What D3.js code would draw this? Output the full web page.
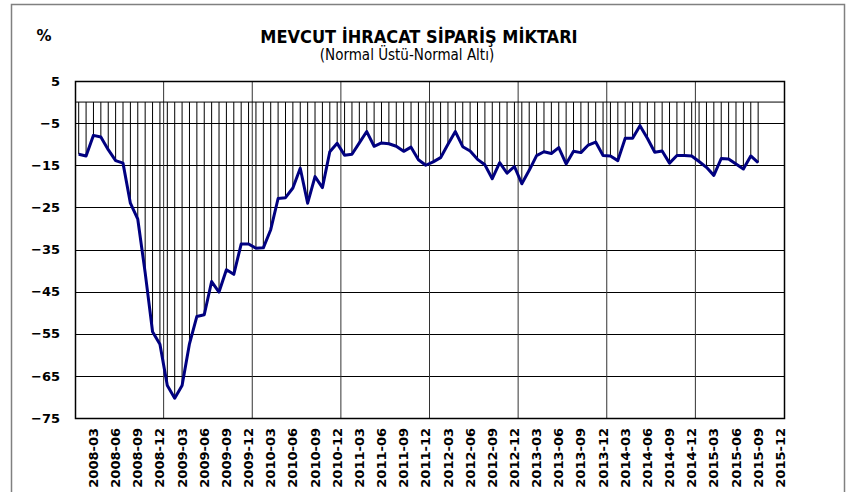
<!DOCTYPE html>
<html>
<head>
    <meta charset="utf-8">
    <title>Mevcut İhracat Sipariş Miktarı</title>
    <script src="https://d3js.org/d3.v7.min.js"></script>
    <style>
        body { margin: 0; background: #fff; }
        text { font-family: "DejaVu Sans", sans-serif; fill: #000; }
    </style>
</head>
<body>
    <svg width="857" height="492"></svg>
    <script>

        // months 2008-01 .. 2015-12 (category axis)
        const years = [2008, 2009, 2010, 2011, 2012, 2013, 2014, 2015];
        const months = years.flatMap(y => d3.range(1, 13).map(m => y + "-" + String(m).padStart(2, "0")));

        // labelled months on the x axis
        const tickLabels = [
            "2008-03", "2008-06", "2008-09", "2008-12", "2009-03", "2009-06", "2009-09", "2009-12",
            "2010-03", "2010-06", "2010-09", "2010-12", "2011-03", "2011-06", "2011-09", "2011-12",
            "2012-03", "2012-06", "2012-09", "2012-12", "2013-03", "2013-06", "2013-09", "2013-12",
            "2014-03", "2014-06", "2014-09", "2014-12", "2015-03", "2015-06", "2015-09", "2015-12"
        ];

        // values 2008-01 .. 2015-09
        const values = [
            -12.4, -12.8, -7.9, -8.3, -11.3, -13.9, -14.5, -24.0, -27.8, -40.5, -54.5, -57.5,
            -67.3, -70.3, -67.3, -57.4, -50.9, -50.5, -42.6, -45.1, -39.8, -40.9, -33.7, -33.7,
            -34.7, -34.6, -30.3, -22.9, -22.7, -20.4, -15.7, -24.0, -17.7, -20.3, -11.8, -9.8,
            -12.6, -12.4, -9.7, -7.0, -10.5, -9.7, -9.9, -10.5, -11.7, -10.7, -13.7, -15.0,
            -14.2, -13.2, -10.0, -7.0, -10.6, -11.6, -13.6, -14.9, -18.2, -14.4, -16.9, -15.3,
            -19.4, -16.2, -12.7, -11.8, -12.2, -10.8, -14.7, -11.7, -12.0, -10.2, -9.5, -12.7,
            -12.8, -13.9, -8.6, -8.6, -5.6, -8.6, -11.9, -11.6, -14.5, -12.7, -12.7, -12.8,
            -14.1, -15.5, -17.4, -13.4, -13.5, -14.7, -15.9, -12.8, -14.4
        ];

        const yTicks = [5, -5, -15, -25, -35, -45, -55, -65, -75];

        const data = values.map((v, i) => ({ month: months[i], value: v }));

        const svg = d3.select("svg"),
            margin = { top: 81, right: 73, bottom: 74, left: 75 },
            width = +svg.attr("width") - margin.left - margin.right,
            height = +svg.attr("height") - margin.top - margin.bottom,
            g = svg.append("g").attr("transform", "translate(" + margin.left + "," + margin.top + ")");

        // outer chart frame
        svg.append("rect")
            .attr("x", 11.5).attr("y", 4.5)
            .attr("width", 833).attr("height", 500)
            .attr("fill", "none")
            .attr("stroke", "#808080")
            .attr("stroke-width", 1.5);

        const x = d3.scaleBand().domain(months).range([0, width]).paddingInner(0).paddingOuter(0);
        const y = d3.scaleLinear().domain([-75, 5]).range([height, 0]);
        const cx = d => x(d) + x.bandwidth() / 2;

        // title
        svg.append("text")
            .attr("x", 419).attr("y", 43)
            .attr("text-anchor", "middle")
            .style("font-family", "'DejaVu Sans Condensed', 'DejaVu Sans', sans-serif")
            .style("font-weight", "bold")
            .style("font-size", "18px")
            .text("MEVCUT İHRACAT SİPARİŞ MİKTARI");

        svg.append("text")
            .attr("x", 407).attr("y", 60)
            .attr("text-anchor", "middle")
            .style("font-family", "'DejaVu Sans Condensed', 'DejaVu Sans', sans-serif")
            .style("font-size", "15px")
            .text("(Normal Üstü-Normal Altı)");

        svg.append("text")
            .attr("x", 44).attr("y", 41)
            .attr("text-anchor", "middle")
            .style("font-weight", "bold")
            .style("font-size", "15px")
            .text("%");

        // horizontal grid
        g.append("g")
            .selectAll("line")
            .data(yTicks)
            .join("line")
            .attr("x1", 0).attr("x2", width)
            .attr("y1", d => Math.round(y(d)) + 0.5)
            .attr("y2", d => Math.round(y(d)) + 0.5)
            .attr("stroke", "#000")
            .attr("stroke-width", 1);

        // vertical grid at year boundaries
        g.append("g")
            .selectAll("line")
            .data(years.slice(1).map(yr => yr + "-01"))
            .join("line")
            .attr("x1", d => x(d)).attr("x2", d => x(d))
            .attr("y1", 0).attr("y2", height)
            .attr("stroke", "#333")
            .attr("stroke-width", 1);

        // zero line
        g.append("line")
            .attr("x1", 0).attr("x2", width)
            .attr("y1", y(0)).attr("y2", y(0))
            .attr("stroke", "#000")
            .attr("stroke-width", 1);

        // drop lines from zero to each point
        g.append("g")
            .selectAll("line")
            .data(data)
            .join("line")
            .attr("x1", d => cx(d.month)).attr("x2", d => cx(d.month))
            .attr("y1", y(0)).attr("y2", d => y(d.value))
            .attr("stroke", "#000")
            .attr("stroke-width", 1);

        // plot frame
        g.append("rect")
            .attr("x", 0.5).attr("y", 0.5)
            .attr("width", width).attr("height", height)
            .attr("fill", "none")
            .attr("stroke", "#000")
            .attr("stroke-width", 1.5);

        // series line
        const line = d3.line()
            .x(d => cx(d.month))
            .y(d => y(d.value));

        g.append("path")
            .datum(data)
            .attr("fill", "none")
            .attr("stroke", "#000080")
            .attr("stroke-width", 3)
            .attr("stroke-linejoin", "round")
            .attr("d", line);

        // y axis labels
        const yAxis = g.append("g")
            .call(d3.axisLeft(y).tickValues(yTicks).tickSize(0).tickPadding(15));
        yAxis.select(".domain").remove();
        yAxis.selectAll("text")
            .style("font-family", "'DejaVu Sans', sans-serif")
            .style("font-weight", "bold")
            .style("font-size", "13px");

        // x axis labels (rotated)
        const xAxis = g.append("g")
            .attr("transform", "translate(0," + height + ")")
            .call(d3.axisBottom(x).tickValues(tickLabels).tickSize(0));
        xAxis.select(".domain").remove();
        xAxis.selectAll("text")
            .attr("transform", "rotate(-90)")
            .attr("text-anchor", "end")
            .attr("x", -10)
            .attr("y", 0)
            .attr("dy", "0.35em")
            .style("font-family", "'DejaVu Sans', sans-serif")
            .style("font-weight", "bold")
            .style("font-size", "13px");

    </script>
</body>
</html>
